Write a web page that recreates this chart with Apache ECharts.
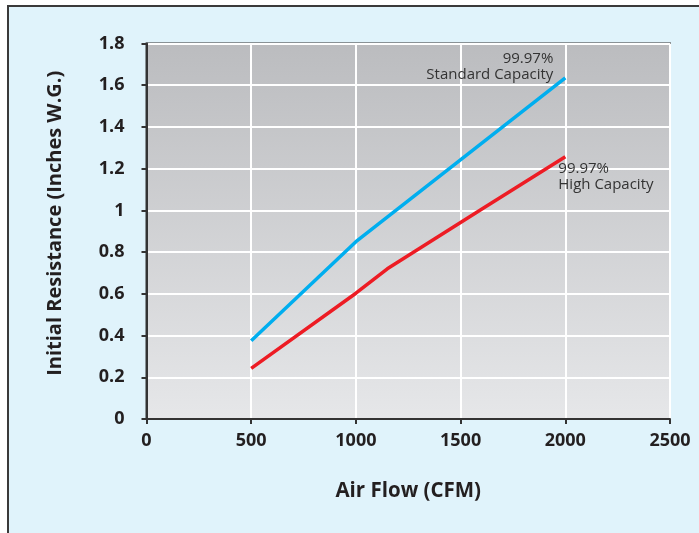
<!DOCTYPE html>
<html>
<head>
<meta charset="utf-8">
<script src="https://cdn.jsdelivr.net/npm/echarts@6/dist/echarts.min.js"></script>
<style>
  html, body { margin: 0; padding: 0; background: #ffffff; overflow: hidden; }
  #frame { position: absolute; left: 7px; top: 5px; width: 720px; height: 560px;
           border-top: 2px solid #3a3a3a; border-left: 2px solid #3a3a3a; background: #e0f3fb; }
  #chart { position: absolute; left: 0; top: 0; width: 699px; height: 533px; }
</style>
</head>
<body>
<div id="frame"></div>
<div id="chart"></div>
<script>
// Data
const xTicks = [0, 500, 1000, 1500, 2000, 2500];
const yTicks = [0, 0.2, 0.4, 0.6, 0.8, 1, 1.2, 1.4, 1.6, 1.8];
const standardFlow = [500, 1000, 2000];
const standardResistance = [0.375, 0.85, 1.635];
const highFlow = [500, 1000, 1150, 1600, 2000];
const highResistance = [0.243, 0.603, 0.72, 1.005, 1.257];
const standardLabel = ['99.97%', 'Standard Capacity'];
const highLabel = ['99.97%', 'High Capacity'];

const pair = (xs, ys) => xs.map((x, i) => [x, ys[i]]);
const font = '"Open Sans", "DejaVu Sans", sans-serif';

const chart = echarts.init(document.getElementById('chart'), null, { renderer: 'canvas' });
chart.setOption({
  animation: false,
  backgroundColor: 'transparent',
  grid: {
    left: 146.5, top: 43.5, right: 29, bottom: 114,
    show: true,
    borderColor: '#333333', borderWidth: 2,
    backgroundColor: new echarts.graphic.LinearGradient(0, 0, 0, 1, [
      { offset: 0, color: '#bbbcbf' },
      { offset: 1, color: '#e6e7e9' }
    ])
  },
  xAxis: {
    type: 'value', min: xTicks[0], max: xTicks[xTicks.length - 1], interval: 500,
    name: 'Air Flow (CFM)', nameLocation: 'middle', nameGap: 62,
    nameTextStyle: { fontFamily: font, fontWeight: 'bold', fontSize: 20.5, color: '#231f20' },
    axisLine: { lineStyle: { color: '#333333', width: 2 } },
    axisTick: { show: true, length: 5, lineStyle: { color: '#333333', width: 2 } },
    axisLabel: { margin: 13, fontFamily: font, fontWeight: 'bold', fontSize: 18, color: '#231f20',
                 formatter: v => String(v) },
    splitLine: { show: true, lineStyle: { color: '#ffffff', width: 2 } }
  },
  yAxis: {
    type: 'value', min: yTicks[0], max: yTicks[yTicks.length - 1], interval: 0.2,
    name: 'Initial Resistance (Inches W.G.)', nameLocation: 'middle', nameGap: 81,
    nameTextStyle: { fontFamily: font, fontWeight: 'bold', fontSize: 20, color: '#231f20',
                     padding: [0, 0, 0, 16] },
    axisLine: { show: true, lineStyle: { color: '#333333', width: 2 } },
    axisTick: { show: true, length: 5, lineStyle: { color: '#333333', width: 2 } },
    axisLabel: { margin: 22, fontFamily: font, fontWeight: 'bold', fontSize: 18, color: '#231f20',
                 formatter: v => String(Math.round(v * 10) / 10) },
    splitLine: { show: true, lineStyle: { color: '#ffffff', width: 2 } }
  },
  series: [
    {
      type: 'line', data: pair(standardFlow, standardResistance),
      showSymbol: false, smooth: false,
      lineStyle: { color: '#00aeef', width: 3.5 },
      endLabel: {
        show: true, formatter: standardLabel.join('\n'),
        fontFamily: font, fontSize: 15, lineHeight: 16, color: '#333333',
        align: 'right', verticalAlign: 'bottom', offset: [-20, 5]
      }
    },
    {
      type: 'line', data: pair(highFlow, highResistance),
      showSymbol: false, smooth: false,
      lineStyle: { color: '#ed1c24', width: 3.5 },
      endLabel: {
        show: true, formatter: highLabel.join('\n'),
        fontFamily: font, fontSize: 15, lineHeight: 16, color: '#333333',
        align: 'left', verticalAlign: 'top', offset: [-15, 4]
      }
    }
  ]
});
</script>
</body>
</html>
